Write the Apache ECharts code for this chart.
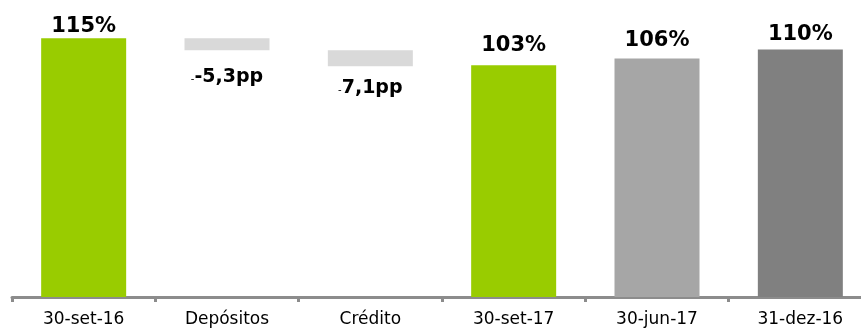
<!DOCTYPE html>
<html>
<head>
<meta charset="utf-8">
<script src="https://cdn.jsdelivr.net/npm/echarts@6/dist/echarts.min.js"></script>
<style>html,body{margin:0;padding:0;background:#fff}#c{width:861px;height:328px}</style>
</head>
<body>
<div id="c"></div>
<script>
const categories = ['30-set-16', 'Depósitos', 'Crédito', '30-set-17', '30-jun-17', '31-dez-16'];
// levels (%) for totals; variations (pp) for the bridge steps
const startValue = 115;
const deltaValues = [-5.3, -7.1];
const endValues = [103, 106, 110];
const valueLabels = ['115%', '-5,3pp', '-7,1pp', '103%', '106%', '110%'];

const colors = ['#99CC00', '#D9D9D9', '#D9D9D9', '#99CC00', '#A6A6A6', '#808080'];
const topGaps = [1, 0, 0, 9, 7, 4];
const bottomGaps = [0, 17, 12, 0, 0, 0];

// waterfall construction from the data
const baseData = [0];
const barData = [startValue];
let level = startValue;
deltaValues.forEach(d => {
  const next = level + d;
  baseData.push(next);
  barData.push(Math.abs(d));
  level = next;
});
endValues.forEach(v => { baseData.push(0); barData.push(v); });

const chart = echarts.init(document.getElementById('c'), null, {renderer: 'canvas'});
chart.setOption({
  animation: false,
  grid: {left: 12, right: -11, top: 0, bottom: 31, containLabel: false, outerBoundsMode: 'none'},
  xAxis: {
    type: 'category',
    data: categories,
    axisLine: {show: true, lineStyle: {color: '#8C8C8C', width: 3}},
    axisTick: {show: true, length: 5, lineStyle: {color: '#8C8C8C', width: 3}},
    axisLabel: {color: '#000', fontFamily: 'DejaVu Sans', fontSize: 17, margin: 14, interval: 0}
  },
  yAxis: {type: 'value', min: 0, max: 132, show: false, splitLine: {show: false}},
  series: [
    {
      type: 'bar', stack: 'w', barWidth: 85, silent: true,
      itemStyle: {color: 'transparent'},
      data: baseData
    },
    {
      type: 'bar', stack: 'w', barWidth: 85,
      data: barData.map((v, i) => {
        const isDelta = i >= 1 && i <= deltaValues.length;
        return {
          value: v,
          itemStyle: {color: colors[i]},
          label: {
            show: true,
            position: isDelta ? 'bottom' : 'top',
            distance: isDelta ? bottomGaps[i] : topGaps[i],
            formatter: () => {
              const t = valueLabels[i];
              if (i === 1) return '{s|-}{b|' + t + '}';
              if (i === 2) return '{s|-}{b|' + t.slice(1) + '}';
              return '{b|' + t + '}';
            },
            rich: {
              b: {fontFamily: 'DejaVu Sans', fontWeight: 'bold', fontSize: isDelta ? 19 : 21, color: '#000'},
              s: {fontFamily: 'DejaVu Sans', fontSize: 10, color: '#000', padding: [6, 0, 0, 0]}
            }
          }
        };
      })
    }
  ]
});
</script>
</body>
</html>
